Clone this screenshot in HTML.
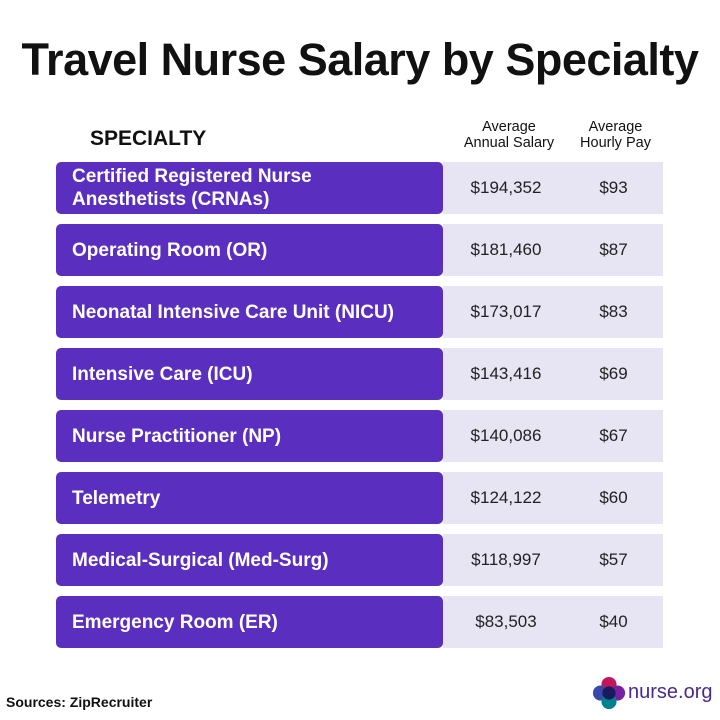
<!DOCTYPE html><html><head><style>
body{margin:0;width:720px;height:720px;background:#fff;font-family:"Liberation Sans",sans-serif;position:relative;overflow:hidden}
.a{position:absolute}
.t{left:0;width:720px;top:34px;text-align:center;font-size:45px;font-weight:bold;color:#111;letter-spacing:-0.5px}
.row{position:absolute;left:56px;width:607px;height:52px}
.p{position:absolute;left:0;top:0;width:387px;height:52px;background:#5a2fbf;border-radius:5px;color:#fff;font-weight:bold;font-size:19px;display:flex;align-items:center;padding-left:16px;box-sizing:border-box;line-height:23px}
.l{position:absolute;left:387px;top:0;width:220px;height:52px;background:#e7e4f3}
.s{position:absolute;left:395px;width:110px;top:0;line-height:52px;text-align:center;font-size:17px;color:#222}
.h{position:absolute;left:510px;width:95px;top:0;line-height:52px;text-align:center;font-size:17px;color:#222}
.hd{font-size:14.5px;text-align:center;line-height:16px;color:#111}
</style></head><body>
<div class="a t">Travel Nurse Salary by Specialty</div>
<div class="a" style="left:90px;top:127px;font-size:21px;font-weight:bold;color:#111">SPECIALTY</div>
<div class="a hd" style="left:448px;width:122px;top:119px">Average<br>Annual Salary</div>
<div class="a hd" style="left:568px;width:95px;top:119px">Average<br>Hourly Pay</div>

<div class="row" style="top:162px"><div class="l"></div><div class="p">Certified Registered Nurse<br>Anesthetists (CRNAs)</div><div class="s">$194,352</div><div class="h">$93</div></div>
<div class="row" style="top:224px"><div class="l"></div><div class="p">Operating Room (OR)</div><div class="s">$181,460</div><div class="h">$87</div></div>
<div class="row" style="top:286px"><div class="l"></div><div class="p">Neonatal Intensive Care Unit (NICU)</div><div class="s">$173,017</div><div class="h">$83</div></div>
<div class="row" style="top:348px"><div class="l"></div><div class="p">Intensive Care (ICU)</div><div class="s">$143,416</div><div class="h">$69</div></div>
<div class="row" style="top:410px"><div class="l"></div><div class="p">Nurse Practitioner (NP)</div><div class="s">$140,086</div><div class="h">$67</div></div>
<div class="row" style="top:472px"><div class="l"></div><div class="p">Telemetry</div><div class="s">$124,122</div><div class="h">$60</div></div>
<div class="row" style="top:534px"><div class="l"></div><div class="p">Medical-Surgical (Med-Surg)</div><div class="s">$118,997</div><div class="h">$57</div></div>
<div class="row" style="top:596px"><div class="l"></div><div class="p">Emergency Room (ER)</div><div class="s">$83,503</div><div class="h">$40</div></div>

<div class="a" style="left:6px;top:694px;font-size:14px;font-weight:bold;color:#111">Sources: ZipRecruiter</div>
<svg class="a" style="left:592px;top:676px" width="34" height="34" viewBox="0 0 36 36">
<circle cx="18" cy="9" r="8" fill="#c2185b"/><circle cx="9" cy="18" r="8" fill="#3949ab"/><circle cx="27" cy="18" r="8" fill="#7b1fa2"/><circle cx="18" cy="27" r="8" fill="#00838f"/><circle cx="18" cy="18" r="7" fill="#1a1a5e"/></svg>
<div class="a" style="left:628px;top:681px;font-size:20px;color:#4a2a8a">nurse.org</div>
</body></html>
